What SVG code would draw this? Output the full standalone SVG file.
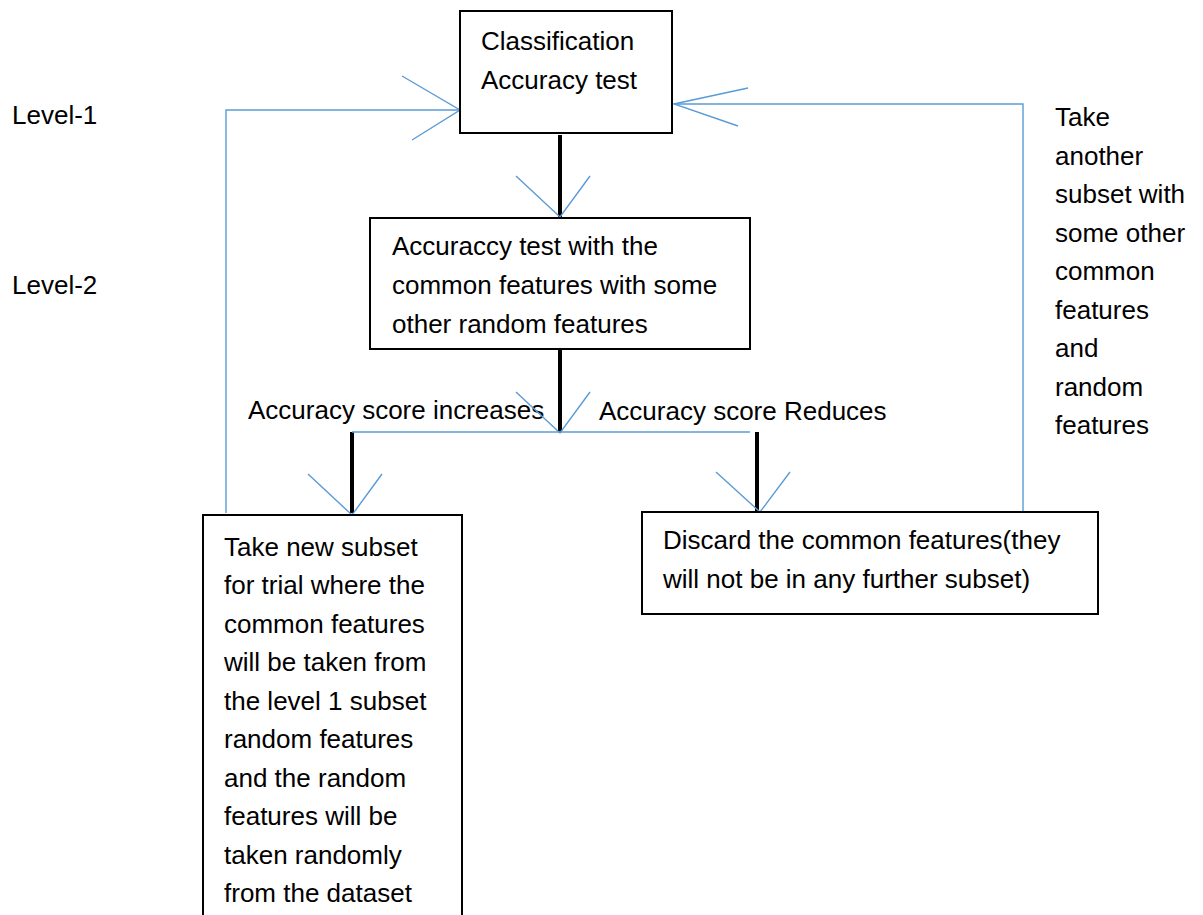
<svg xmlns="http://www.w3.org/2000/svg" width="1203" height="915" viewBox="0 0 1203 915">
<style>
text{font-family:"Liberation Sans",Arial,sans-serif;font-size:26px;fill:#000}
.box{fill:#fff;stroke:#000;stroke-width:2}
.blue{fill:none;stroke:#5B9BD5;stroke-width:1.4}
.thick{fill:none;stroke:#000;stroke-width:4}
</style>
<rect width="1203" height="915" fill="#fff"/>
<g id="labels">
<text x="12" y="124">Level-1</text>
<text x="12" y="294">Level-2</text>
<text x="248" y="419">Accuracy score increases</text>
<text x="599" y="420">Accuracy score Reduces</text>
<text x="1055" y="126">Take</text>
<text x="1055" y="164.5">another</text>
<text x="1055" y="203">subset with</text>
<text x="1055" y="241.5">some other</text>
<text x="1055" y="280">common</text>
<text x="1055" y="318.5">features</text>
<text x="1055" y="357">and</text>
<text x="1055" y="395.5">random</text>
<text x="1055" y="434">features</text>
</g>
<g id="connectors">
<path class="thick" d="M560,135V217"/>
<path class="thick" d="M560,350V432"/>
<path class="thick" d="M352,432V513"/>
<path class="thick" d="M757,432V511"/>
<path class="blue" d="M352,432H750"/>
<path class="blue" d="M226,513V110H460"/>
<path class="blue" d="M1023,512V104H674"/>
<path class="blue" d="M402,76L460,110L412,140"/>
<path class="blue" d="M748,88L674,104L738,126"/>
<path class="blue" d="M516,176L560,217L590,176"/>
<path class="blue" d="M516,392L560,433L590,392"/>
<path class="blue" d="M308,474L352,515L382,474"/>
<path class="blue" d="M716,472L760,512L790,472"/>
</g>
<g id="node-classification">
<rect class="box" x="460" y="11" width="212" height="122"/>
<text x="481" y="50">Classification</text>
<text x="481" y="89">Accuracy test</text>
</g>
<g id="node-accuracy-test">
<rect class="box" x="370" y="218" width="380" height="131"/>
<text x="392" y="255">Accuraccy test with the</text>
<text x="392" y="294">common features with some</text>
<text x="392" y="333">other random features</text>
</g>
<g id="node-new-subset">
<rect class="box" x="203" y="515" width="259" height="420"/>
<text x="224" y="555.5">Take new subset</text>
<text x="224" y="594">for trial where the</text>
<text x="224" y="632.5">common features</text>
<text x="224" y="671">will be taken from</text>
<text x="224" y="709.5">the level 1 subset</text>
<text x="224" y="748">random features</text>
<text x="224" y="786.5">and the random</text>
<text x="224" y="825">features will be</text>
<text x="224" y="863.5">taken randomly</text>
<text x="224" y="902">from the dataset</text>
</g>
<g id="node-discard">
<rect class="box" x="642" y="512" width="456" height="102"/>
<text x="663" y="549">Discard the common features(they</text>
<text x="663" y="588">will not be in any further subset)</text>
</g>
</svg>
